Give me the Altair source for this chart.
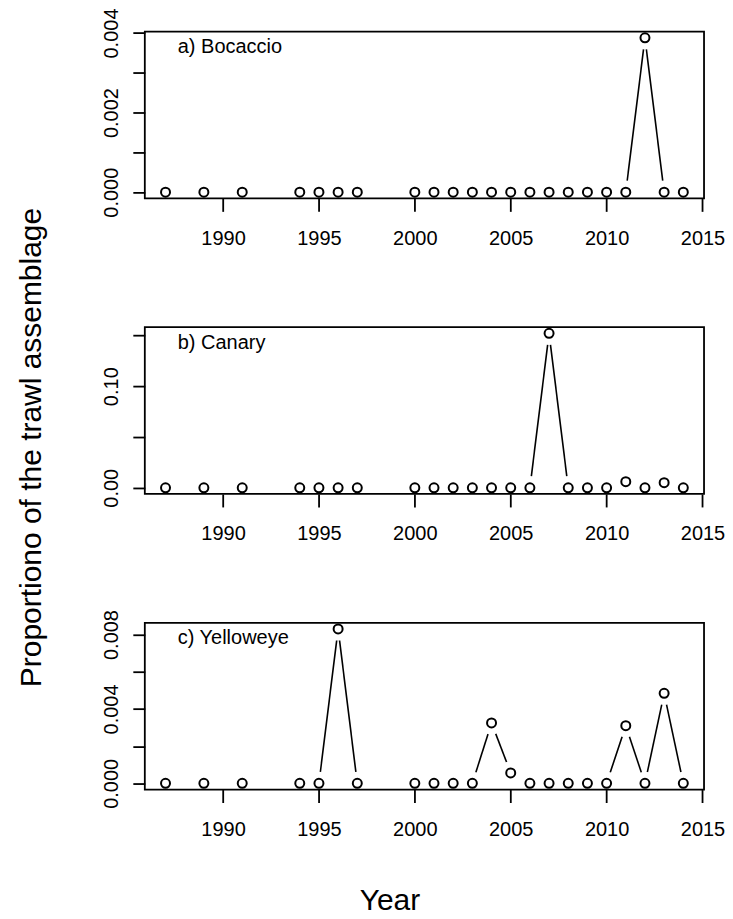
import altair as alt
import pandas as pd

FONT = "Liberation Sans"

# ---- data ----
years = [1987, 1989, 1991, 1994, 1995, 1996, 1997,
         2000, 2001, 2002, 2003, 2004, 2005, 2006, 2007,
         2008, 2009, 2010, 2011, 2012, 2013, 2014]
bocaccio = [0, 0, 0, 0, 0, 0, 0,
            0, 0, 0, 0, 0, 0, 0, 0,
            0, 0, 0, 0, 0.00388, 0, 0]
canary = [0, 0, 0, 0, 0, 0, 0,
          0, 0, 0, 0, 0, 0, 0, 0.152,
          0, 0, 0, 0.006, 0, 0.005, 0]
yelloweye = [0, 0, 0, 0, 0, 0.0083, 0,
             0, 0, 0, 0, 0.00325, 0.00056, 0, 0,
             0, 0, 0, 0.0031, 0, 0.00484, 0]

panel_labels = ["a) Bocaccio", "b) Canary", "c) Yelloweye"]
x_ticks = [1990, 1995, 2000, 2005, 2010, 2015]
y_ticks_a = [0, 0.001, 0.002, 0.003, 0.004]
y_labeled_a = [0, 0.002, 0.004]
y_ticks_b = [0, 0.05, 0.10, 0.15]
y_labeled_b = [0, 0.10]
y_ticks_c = [0, 0.002, 0.004, 0.006, 0.008]
y_labeled_c = [0, 0.004, 0.008]
x_title = "Year"
y_title = "Proportiono of the trawl assemblage"

W, H = 560, 167
span = max(years) - min(years)
x_lo, x_hi = min(years) - 0.04 * span, max(years) + 0.04 * span


def panel(values, label, yticks, ylabeled, yfmt, show_xtitle=False, show_ytitle=False):
    vmax = max(values)
    yscale = alt.Scale(domain=[-0.04 * vmax, 1.04 * vmax], nice=False, zero=False)
    xscale = alt.Scale(domain=[x_lo, x_hi], nice=False, zero=False)

    pts = pd.DataFrame({"year": years, "value": values})
    segs = pd.DataFrame([
        {"year": years[i], "value": values[i], "year2": years[i + 1], "value2": values[i + 1]}
        for i in range(len(years) - 1)
        if values[i] != 0 or values[i + 1] != 0
    ])

    xaxis_kw = dict(values=x_ticks, format="d", tickSize=13, tickWidth=1.8, tickColor="black",
                    labelFontSize=20, labelFont=FONT, labelColor="black", labelPadding=33,
                    labelBaseline="alphabetic", labelFlush=False, labelOverlap=False,
                    domain=False, grid=False, zindex=1)
    if show_xtitle:
        xaxis_kw.update(titleFontSize=30, titleFont=FONT, titleFontWeight="normal",
                        titleColor="black", titleX=245, titleY=120,
                        titleAlign="center", titleBaseline="alphabetic")
    xaxis = alt.Axis(**xaxis_kw)

    lab_list = "[" + ",".join(repr(v) for v in ylabeled) + "]"
    yaxis_kw = dict(values=yticks, tickSize=12, tickWidth=1.8, tickColor="black",
                    labelFontSize=20, labelFont=FONT, labelColor="black", labelPadding=15,
                    labelAngle=270, labelAlign="center", labelBaseline="alphabetic",
                    labelFlush=False, labelOverlap=False,
                    labelExpr=f"indexof({lab_list}, datum.value) >= 0 ? format(datum.value, '{yfmt}') : ''",
                    domain=False, grid=False, zindex=1)
    if show_ytitle:
        yaxis_kw.update(titleFontSize=30, titleFont=FONT, titleFontWeight="normal",
                        titleColor="black", titleX=-104, titleY=120, titleAngle=270,
                        titleAlign="center", titleBaseline="alphabetic")
    yaxis = alt.Axis(**yaxis_kw)

    xenc = alt.X("year:Q", scale=xscale, axis=xaxis, title=x_title if show_xtitle else None)
    yenc = alt.Y("value:Q", scale=yscale, axis=yaxis, title=y_title if show_ytitle else None)

    rules = alt.Chart(segs).mark_rule(color="black", strokeWidth=1.6).encode(
        x=xenc, x2="year2:Q", y=yenc, y2="value2:Q")
    discs = alt.Chart(pts).mark_point(shape="circle", filled=True, color="white",
                                      opacity=1, size=545, strokeWidth=0).encode(x=xenc, y=yenc)
    circles = alt.Chart(pts).mark_point(shape="circle", filled=False, color="black",
                                        opacity=1, size=81, strokeWidth=2).encode(x=xenc, y=yenc)
    text = alt.Chart(pd.DataFrame({"label": [label]})).mark_text(
        align="left", baseline="alphabetic", fontSize=20, font=FONT, color="black"
    ).encode(text="label:N", x=alt.value(33), y=alt.value(21.5))
    frame = alt.Chart(pd.DataFrame({"f": [0]})).mark_rect(
        filled=False, stroke="black", strokeWidth=1.8
    ).encode(x=alt.value(0), x2=alt.value(W), y=alt.value(0), y2=alt.value(H))

    return alt.layer(rules, discs, circles, text, frame).properties(width=W, height=H)


pa = panel(bocaccio, panel_labels[0], y_ticks_a, y_labeled_a, ".3f")
pb = panel(canary, panel_labels[1], y_ticks_b, y_labeled_b, ".2f", show_ytitle=True)
pc = panel(yelloweye, panel_labels[2], y_ticks_c, y_labeled_c, ".3f", show_xtitle=True)

chart = alt.vconcat(pa, pb, pc, spacing=129, bounds="flush").resolve_scale(
    x="independent", y="independent"
).configure_view(stroke=None).properties(
    background="white",
    padding={"left": 8, "top": -1, "right": 0, "bottom": 0},
)

chart.save("out.html", embed_options={"renderer": "svg", "actions": False})
